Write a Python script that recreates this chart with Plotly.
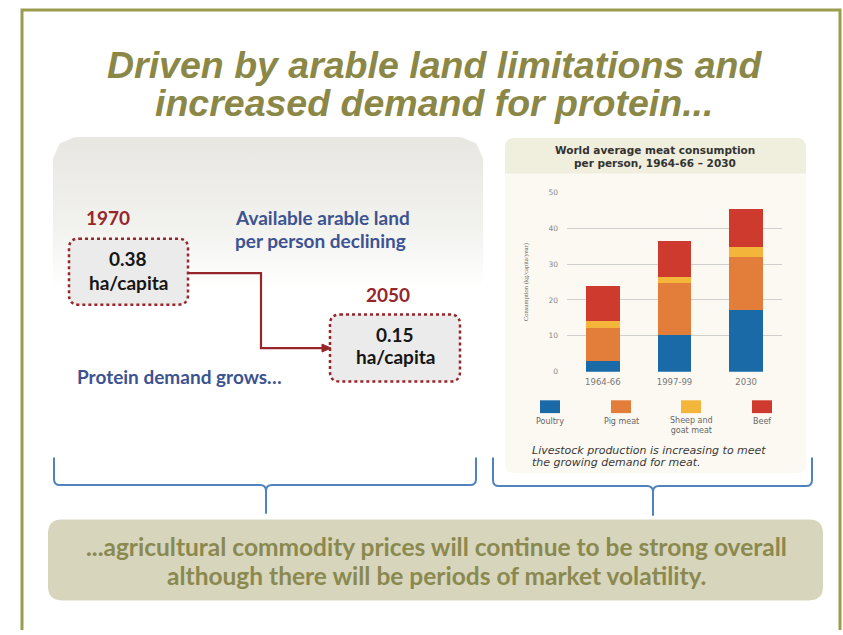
import plotly.graph_objects as go

W, H = 843, 635

# ---------------- data ----------------
periods = ["1964-66", "1997-99", "2030"]
meat_types = ["Poultry", "Pig meat", "Sheep and<br>goat meat", "Beef"]
poultry = [3.1, 10.2, 17.3]
pig_meat = [9.1, 14.5, 14.7]
sheep_goat = [2.0, 1.8, 2.7]
beef = [9.8, 9.9, 10.6]
y_ticks = [0, 10, 20, 30, 40, 50]

land_years = ["1970", "2050"]
land_values = ["0.38", "0.15"]

title_lines = ["Driven by arable land limitations and", "increased demand for protein..."]
bottom_lines = ["...agricultural commodity prices will continue to be strong overall",
                "although there will be periods of market volatility."]

# ---------------- style ----------------
meat_colors = ["#1b6aa8", "#e27d3a", "#f3b53a", "#cf3a2f"]
OLIVE = "#8b8746"
DARKRED = "#97262a"
BLUE_TXT = "#3d5391"
BRACE = "#5282be"
TXT_FONT = "Lato"
CH_FONT = "DejaVu Sans"


def rrect(x0, y0, x1, y1, r):
    return (f"M {x0+r} {y0} L {x1-r} {y0} Q {x1} {y0} {x1} {y0+r} "
            f"L {x1} {y1-r} Q {x1} {y1} {x1-r} {y1} L {x0+r} {y1} "
            f"Q {x0} {y1} {x0} {y1-r} L {x0} {y0+r} Q {x0} {y0} {x0+r} {y0} Z")


fig = go.Figure()

# gradient left panel (pixel overlay axes x/y)
px0, py0, px1, py1, pr = 53, 135, 483, 400, 22
xs = [px0, px0, px0 + pr * 0.3, px0 + pr, px1 - pr, px1 - pr * 0.3, px1, px1, px0]
ys = [py1, py0 + pr, py0 + pr * 0.3, py0, py0, py0 + pr * 0.3, py0 + pr, py1, py1]
fig.add_trace(go.Scatter(
    x=xs, y=ys, mode="lines", fill="toself", line=dict(width=0),
    fillgradient=dict(type="vertical", colorscale=[[0, "#e8e7e2"], [0.6, "#f2f2ef"], [1, "#ffffff"]],
                      start=135, stop=285),
    hoverinfo="skip", showlegend=False, xaxis="x", yaxis="y"))

# stacked bars (chart axes x2/y2)
for name, vals, col in zip(meat_types, [poultry, pig_meat, sheep_goat, beef], meat_colors):
    fig.add_trace(go.Bar(x=periods, y=vals, name=name, marker=dict(color=col, line=dict(width=0)),
                         xaxis="x2", yaxis="y2", showlegend=False))

leg_x = [550, 621, 691, 762]

shapes = []
# outer border
shapes.append(dict(type="rect", xref="x", yref="y", x0=22, y0=6, x1=840, y1=650,
                   line=dict(color="#9a9d50", width=3), layer="below"))
# chart panel
shapes.append(dict(type="path", xref="x", yref="y", path=rrect(505, 136, 806, 476, 10),
                   fillcolor="#fcf9f2", line=dict(width=0), layer="below"))
shapes.append(dict(type="path", xref="x", yref="y",
                   path="M 505 172 L 505 146 Q 505 136 515 136 L 796 136 Q 806 136 806 146 L 806 172 Z",
                   fillcolor="#f0eedd", line=dict(width=0), layer="below"))
# legend swatches
for lx, col in zip(leg_x, meat_colors):
    shapes.append(dict(type="rect", xref="x", yref="y", x0=lx - 10, x1=lx + 10, y0=402, y1=415,
                       fillcolor=col, line=dict(width=0), layer="above"))
# dotted boxes
shapes.append(dict(type="path", xref="x", yref="y", path=rrect(69, 238, 188, 305, 10),
                   fillcolor="#ebebeb", line=dict(color=DARKRED, width=2.5, dash="dot"), layer="above"))
shapes.append(dict(type="path", xref="x", yref="y", path=rrect(330, 315, 460, 383, 10),
                   fillcolor="#ebebeb", line=dict(color=DARKRED, width=2.5, dash="dot"), layer="above"))
# connector
shapes.append(dict(type="path", xref="x", yref="y", path="M 189 273 L 261 273 L 261 349 L 324 349",
                   line=dict(color=DARKRED, width=2.2), layer="above"))
shapes.append(dict(type="path", xref="x", yref="y", path="M 331 349 L 322 345 L 322 353 Z",
                   fillcolor=DARKRED, line=dict(color=DARKRED, width=1), layer="above"))
# braces
def brace(xl, xr, xt, yt, yh, yb, r=6):
    return (f"M {xl} {yt} L {xl} {yh-r} Q {xl} {yh} {xl+r} {yh} L {xt-r} {yh} Q {xt} {yh} {xt} {yh+r} "
            f"L {xt} {yb} M {xt} {yh+r} Q {xt} {yh} {xt+r} {yh} L {xr-r} {yh} Q {xr} {yh} {xr} {yh-r} L {xr} {yt}")

shapes.append(dict(type="path", xref="x", yref="y", path=brace(54, 476, 266, 460, 488, 517),
                   line=dict(color=BRACE, width=2), layer="above"))
shapes.append(dict(type="path", xref="x", yref="y", path=brace(493, 812, 653, 460, 489, 519),
                   line=dict(color=BRACE, width=2), layer="above"))
# bottom box
shapes.append(dict(type="path", xref="x", yref="y", path=rrect(48, 523, 823, 605, 14),
                   fillcolor="#d7d5bc", line=dict(width=0), layer="below"))

ann = []
def txt(x, y, s, size, color, family=TXT_FONT, xanchor="center", align="center", **kw):
    ann.append(dict(x=x, y=y, xref="x", yref="y", text=s, showarrow=False, xanchor=xanchor,
                    yanchor="middle", align=align, font=dict(size=size, color=color, family=family), **kw))

# title
txt(434, 62, f"<b><i>{title_lines[0]}</i></b>", 37.5, OLIVE, family="Liberation Sans")
txt(434, 100, f"<b><i>{title_lines[1]}</i></b>", 37.5, OLIVE, family="Liberation Sans")

# left panel
txt(108, 217, f"<b>{land_years[0]}</b>", 19, DARKRED)
txt(128, 258, f"<b>{land_values[0]}</b>", 19, "#151515")
txt(128, 283, "<b>ha/capita</b>", 19, "#151515")
txt(233, 217, "<b>Available arable land</b>", 19, BLUE_TXT, xanchor="left", align="left")
txt(233, 240, "<b>per person declining</b>", 19, BLUE_TXT, xanchor="left", align="left")
txt(388, 295, f"<b>{land_years[1]}</b>", 19, DARKRED)
txt(395, 335, f"<b>{land_values[1]}</b>", 19, "#151515")
txt(395, 358, "<b>ha/capita</b>", 19, "#151515")
txt(75, 378, "<b>Protein demand grows…</b>", 19, BLUE_TXT, xanchor="left", align="left")

# chart texts
txt(655, 148, "<b>World average meat consumption</b>", 10.5, "#333333", family=CH_FONT)
txt(655, 161, "<b>per person, 1964-66 – 2030</b>", 10.5, "#333333", family=CH_FONT)
ann.append(dict(x=526, y=282, xref="x", yref="y", text="Consumption (kg/capita/year)", showarrow=False,
                textangle=-90, font=dict(size=6.5, color="#666666", family="Liberation Sans Narrow")))
leg_lab_y = [424, 424, 428, 424]
for lx, ly, nm in zip(leg_x, leg_lab_y, meat_types):
    txt(lx, ly, nm, 8, "#666666", family=CH_FONT)
txt(530, 453, "<i>Livestock production is increasing to meet</i>", 11, "#3a3a3a",
    family=CH_FONT, xanchor="left", align="left")
txt(530, 465, "<i>the growing demand for meat.</i>", 11, "#3a3a3a",
    family=CH_FONT, xanchor="left", align="left")

# bottom text
txt(436, 550, f"<b>{bottom_lines[0]}</b>", 24.5, "#8a8950")
txt(436, 580, f"<b>{bottom_lines[1]}</b>", 24.5, "#8a8950")

fig.update_layout(
    width=W, height=H, autosize=False,
    margin=dict(l=0, r=0, t=0, b=0),
    paper_bgcolor="white", plot_bgcolor="rgba(0,0,0,0)",
    barmode="stack", bargap=0.53,
    showlegend=False,
    shapes=shapes, annotations=ann,
    xaxis=dict(domain=[0, 1], range=[0, W], visible=False, fixedrange=True),
    yaxis=dict(domain=[0, 1], range=[H, 0], visible=False, fixedrange=True),
    xaxis2=dict(domain=[567 / W, 782 / W], anchor="y2", type="category", range=[-0.5, 2.5],
                showgrid=False, showline=False, zeroline=False, ticks="",
                tickfont=dict(size=8.5, color="#777777", family=CH_FONT), ticklabelstandoff=4),
    yaxis2=dict(domain=[1 - 373 / H, 1 - 191 / H], anchor="x2", range=[0, 50], tickvals=y_ticks,
                showgrid=True, gridcolor="#cfcfcf", gridwidth=1, zeroline=False, showline=False, ticks="",
                tickfont=dict(size=7.5, color="#888888", family=CH_FONT), ticklabelstandoff=8),
)

fig.write_html("out.html")
